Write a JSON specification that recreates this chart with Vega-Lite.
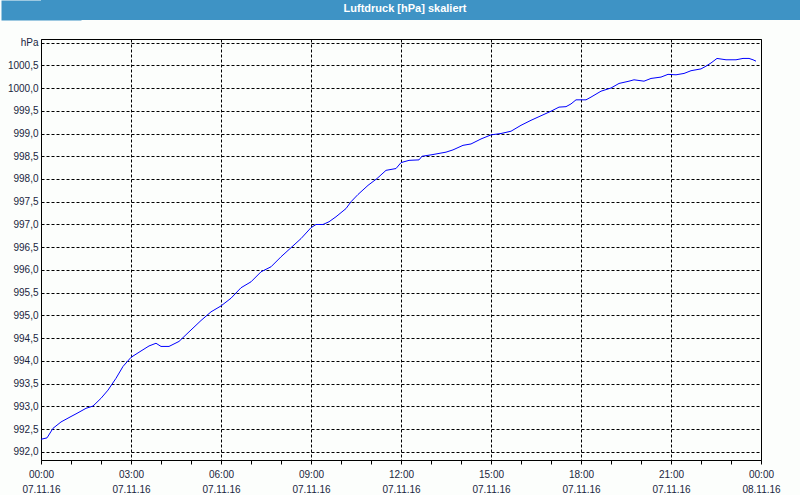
{
  "$schema": "https://vega.github.io/schema/vega-lite/v6.json",
  "background": "#fcfefc",
  "padding": 0,
  "columns": 1,
  "spacing": 17,
  "config": {"font": "Liberation Sans", "view": {"stroke": null}},
  "concat": [
    {
      "width": 760,
      "height": 20,
      "view": {"fill": "#3e93c5", "stroke": null},
      "data": {"values": [{"title": "Luftdruck [hPa] skaliert", "pos": 0}]},
      "mark": {"type": "text", "color": "white", "font": "Liberation Sans", "fontWeight": "bold", "fontSize": 11, "baseline": "middle", "align": "center", "dx": -16, "dy": -1},
      "encoding": {
        "text": {"field": "title", "type": "nominal"},
        "y": {
          "field": "pos",
          "type": "quantitative",
          "scale": {"domain": [-1, 1], "nice": false, "zero": false},
          "axis": {"title": null, "labels": false, "ticks": false, "grid": false, "domain": true, "domainColor": "#3e93c5", "domainWidth": 80, "domainCap": "butt", "minExtent": 40}
        }
      }
    },
    {
      "width": 720,
      "height": 421,
      "view": {"stroke": "black", "strokeWidth": 1},
      "data": {
        "format": {"parse": {"t": "utc:'%Y-%m-%d %H:%M'"}},
        "values": [
          {"t": "2016-11-07 00:00", "p": 992.28},
          {"t": "2016-11-07 00:12", "p": 992.31},
          {"t": "2016-11-07 00:24", "p": 992.52},
          {"t": "2016-11-07 00:40", "p": 992.66},
          {"t": "2016-11-07 01:00", "p": 992.78},
          {"t": "2016-11-07 01:12", "p": 992.85},
          {"t": "2016-11-07 01:30", "p": 992.96},
          {"t": "2016-11-07 01:44", "p": 993.01},
          {"t": "2016-11-07 02:00", "p": 993.18},
          {"t": "2016-11-07 02:14", "p": 993.36},
          {"t": "2016-11-07 02:30", "p": 993.62},
          {"t": "2016-11-07 02:44", "p": 993.88},
          {"t": "2016-11-07 03:00", "p": 994.08},
          {"t": "2016-11-07 03:20", "p": 994.22},
          {"t": "2016-11-07 03:36", "p": 994.33},
          {"t": "2016-11-07 03:50", "p": 994.39},
          {"t": "2016-11-07 04:00", "p": 994.32},
          {"t": "2016-11-07 04:16", "p": 994.32},
          {"t": "2016-11-07 04:36", "p": 994.43},
          {"t": "2016-11-07 04:56", "p": 994.64},
          {"t": "2016-11-07 05:20", "p": 994.89},
          {"t": "2016-11-07 05:40", "p": 995.08},
          {"t": "2016-11-07 06:00", "p": 995.21},
          {"t": "2016-11-07 06:20", "p": 995.38},
          {"t": "2016-11-07 06:40", "p": 995.61},
          {"t": "2016-11-07 07:00", "p": 995.74},
          {"t": "2016-11-07 07:20", "p": 995.96},
          {"t": "2016-11-07 07:40", "p": 996.07},
          {"t": "2016-11-07 08:00", "p": 996.29},
          {"t": "2016-11-07 08:20", "p": 996.49},
          {"t": "2016-11-07 08:40", "p": 996.69},
          {"t": "2016-11-07 09:00", "p": 996.93},
          {"t": "2016-11-07 09:10", "p": 997.0},
          {"t": "2016-11-07 09:24", "p": 997.0},
          {"t": "2016-11-07 09:36", "p": 997.06},
          {"t": "2016-11-07 09:50", "p": 997.17},
          {"t": "2016-11-07 10:10", "p": 997.35},
          {"t": "2016-11-07 10:20", "p": 997.5},
          {"t": "2016-11-07 10:34", "p": 997.66},
          {"t": "2016-11-07 10:54", "p": 997.86},
          {"t": "2016-11-07 11:12", "p": 998.01},
          {"t": "2016-11-07 11:30", "p": 998.19},
          {"t": "2016-11-07 11:50", "p": 998.23},
          {"t": "2016-11-07 12:00", "p": 998.36},
          {"t": "2016-11-07 12:16", "p": 998.41},
          {"t": "2016-11-07 12:36", "p": 998.42},
          {"t": "2016-11-07 12:42", "p": 998.5},
          {"t": "2016-11-07 13:00", "p": 998.53},
          {"t": "2016-11-07 13:30", "p": 998.59},
          {"t": "2016-11-07 13:44", "p": 998.64},
          {"t": "2016-11-07 14:04", "p": 998.74},
          {"t": "2016-11-07 14:20", "p": 998.77},
          {"t": "2016-11-07 14:40", "p": 998.88},
          {"t": "2016-11-07 15:00", "p": 998.97},
          {"t": "2016-11-07 15:20", "p": 999.0},
          {"t": "2016-11-07 15:40", "p": 999.05},
          {"t": "2016-11-07 16:00", "p": 999.18},
          {"t": "2016-11-07 16:20", "p": 999.29},
          {"t": "2016-11-07 16:40", "p": 999.39},
          {"t": "2016-11-07 17:00", "p": 999.49},
          {"t": "2016-11-07 17:16", "p": 999.58},
          {"t": "2016-11-07 17:30", "p": 999.59},
          {"t": "2016-11-07 17:40", "p": 999.65},
          {"t": "2016-11-07 17:50", "p": 999.74},
          {"t": "2016-11-07 18:10", "p": 999.74},
          {"t": "2016-11-07 18:20", "p": 999.8},
          {"t": "2016-11-07 18:40", "p": 999.93},
          {"t": "2016-11-07 19:00", "p": 1000.0},
          {"t": "2016-11-07 19:16", "p": 1000.1},
          {"t": "2016-11-07 19:36", "p": 1000.15},
          {"t": "2016-11-07 19:46", "p": 1000.18},
          {"t": "2016-11-07 20:06", "p": 1000.15},
          {"t": "2016-11-07 20:20", "p": 1000.21},
          {"t": "2016-11-07 20:40", "p": 1000.24},
          {"t": "2016-11-07 20:54", "p": 1000.3},
          {"t": "2016-11-07 21:10", "p": 1000.29},
          {"t": "2016-11-07 21:26", "p": 1000.32},
          {"t": "2016-11-07 21:40", "p": 1000.38},
          {"t": "2016-11-07 22:00", "p": 1000.42},
          {"t": "2016-11-07 22:10", "p": 1000.48},
          {"t": "2016-11-07 22:20", "p": 1000.55},
          {"t": "2016-11-07 22:32", "p": 1000.65},
          {"t": "2016-11-07 22:50", "p": 1000.62},
          {"t": "2016-11-07 23:10", "p": 1000.62},
          {"t": "2016-11-07 23:24", "p": 1000.65},
          {"t": "2016-11-07 23:36", "p": 1000.65},
          {"t": "2016-11-07 23:44", "p": 1000.62},
          {"t": "2016-11-07 23:50", "p": 1000.59}
        ]
      },
      "mark": {"type": "line", "color": "#0000ff", "strokeWidth": 1},
      "encoding": {
        "x": {
          "field": "t",
          "type": "temporal",
          "title": null,
          "scale": {
            "type": "utc",
            "nice": false,
            "domain": [
              {"year": 2016, "month": 11, "date": 7, "hours": 0, "utc": true},
              {"year": 2016, "month": 11, "date": 8, "hours": 0, "utc": true}
            ]
          },
          "axis": {
            "tickCount": 24,
            "labelExpr": "utchours(datum.value) % 3 == 0 ? [utcFormat(datum.value, '%H:%M'), utcFormat(datum.value, '%d.%m.%y')] : ''",
            "domain": false,
            "tickColor": "black",
            "tickSize": 4,
            "labelPadding": 5,
            "labelLineHeight": 15,
            "labelFontSize": 10,
            "labelColor": "#1a2540",
            "labelOverlap": false,
            "labelFlush": false,
            "labelBound": false,
            "grid": true,
            "gridColor": "black",
            "gridDash": [3, 2],
            "gridWidth": 1,
            "gridOpacity": {"condition": {"test": "utchours(datum.value) % 3 == 0", "value": 1}, "value": 0}
          }
        },
        "y": {
          "field": "p",
          "type": "quantitative",
          "title": null,
          "scale": {"domain": [991.824, 1001.077], "nice": false, "zero": false},
          "axis": {
            "values": [992, 992.5, 993, 993.5, 994, 994.5, 995, 995.5, 996, 996.5, 997, 997.5, 998, 998.5, 999, 999.5, 1000, 1000.5, 1001],
            "labelExpr": "datum.value >= 1001 ? 'hPa' : replace(format(datum.value, '.1f'), '.', ',')",
            "ticks": false,
            "domain": false,
            "labelPadding": 3,
            "minExtent": 40,
            "labelFontSize": 10,
            "labelColor": "#1a2540",
            "labelOverlap": false,
            "labelFlush": false,
            "labelBound": false,
            "grid": true,
            "gridColor": "black",
            "gridDash": [3, 2],
            "gridWidth": 1
          }
        }
      }
    }
  ]
}
